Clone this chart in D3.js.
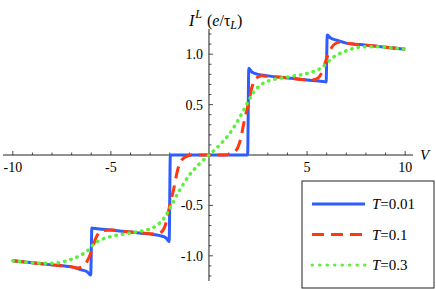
<!DOCTYPE html>
<html>
<head>
<meta charset="utf-8">
<script src="https://cdn.jsdelivr.net/npm/d3@7"></script>
<style>
  body { margin: 0; background: #fff; }
</style>
</head>
<body>
<svg id="chart" width="436" height="289" font-family="'Liberation Serif', 'Times New Roman', serif"></svg>
<script>
// T = 0.01 (solid blue)
const vBlue = [-10, -9, -8, -7, -6.5, -6.2, -6.03, -5.97, -5.8, -5, -4, -3, -2.5, -2.2, -2.03, -1.97, -1, 0,
  1, 1.97, 2.03, 2.2, 2.5, 3, 4, 5, 5.8, 5.97, 6.03, 6.2, 6.5, 7, 8, 9, 10];
const iBlue = [-1.05, -1.07, -1.09, -1.11, -1.14, -1.16, -1.19, -0.725, -0.73, -0.745, -0.765, -0.785, -0.80, -0.82, -0.86, 0, 0, 0,
  0, 0, 0.86, 0.82, 0.80, 0.785, 0.765, 0.745, 0.73, 0.725, 1.19, 1.16, 1.14, 1.11, 1.09, 1.07, 1.05];

// T = 0.1 (dashed red)
const vRed = [-10, -9, -8, -7, -6.7, -6.4, -6.2, -6.0, -5.8, -5.6, -5.4, -5, -4, -3, -2.7, -2.4, -2.2, -2.0, -1.8, -1.6, -1.4, -1.1, -0.8, 0,
  0.8, 1.1, 1.4, 1.6, 1.8, 2.0, 2.2, 2.4, 2.7, 3, 4, 5, 5.4, 5.6, 5.8, 6.0, 6.2, 6.4, 6.7, 7, 8, 9, 10];
const iRed = [-1.05, -1.07, -1.09, -1.11, -1.12, -1.10, -1.05, -0.96, -0.84, -0.77, -0.75, -0.745, -0.765, -0.78, -0.785, -0.76, -0.68, -0.50, -0.34, -0.15, -0.05, -0.01, 0, 0,
  0, 0.01, 0.05, 0.15, 0.34, 0.50, 0.68, 0.76, 0.785, 0.78, 0.765, 0.745, 0.75, 0.77, 0.84, 0.96, 1.05, 1.10, 1.12, 1.11, 1.09, 1.07, 1.05];

// T = 0.3 (dotted green)
const vGreen = [-10, -9.2, -8.4, -7.7, -7.1, -6.6, -6.2, -5.9, -5.6, -5.2, -4.8, -4.2, -3.6, -3.1, -2.6, -2.3, -2.0, -1.5, -1.0, -0.5, 0,
  0.5, 1.0, 1.5, 2.0, 2.3, 2.6, 3.1, 3.6, 4.2, 4.8, 5.2, 5.6, 5.9, 6.2, 6.6, 7.1, 7.7, 8.4, 9.2, 10];
const iGreen = [-1.05, -1.065, -1.075, -1.07, -1.04, -1.0, -0.95, -0.89, -0.85, -0.82, -0.80, -0.78, -0.76, -0.74, -0.69, -0.63, -0.53, -0.35, -0.20, -0.09, 0,
  0.09, 0.20, 0.35, 0.53, 0.63, 0.69, 0.74, 0.76, 0.78, 0.80, 0.82, 0.85, 0.89, 0.95, 1.0, 1.04, 1.07, 1.075, 1.065, 1.05];

const xMajor = [-10, -5, 5, 10];
const yMajor = [-1.0, -0.5, 0.5, 1.0];
const legendLabels = ["0.01", "0.1", "0.3"];

const svg = d3.select("#chart");
const x = d3.scaleLinear().domain([-10.5, 10.4]).range([3, 413]);
const y = d3.scaleLinear().domain([-1.25, 1.25]).range([281, 29]);

const axisColor = "#222";

// x axis line + ticks (ticks point up, Mathematica style)
svg.append("line").attr("x1", x(-10.5)).attr("x2", x(10.4))
  .attr("y1", y(0)).attr("y2", y(0)).attr("stroke", axisColor).attr("stroke-width", 1);
const xMinor = d3.range(-10, 11).filter(d => d !== 0);
svg.selectAll(".xtick").data(xMinor).join("line")
  .attr("x1", d => x(d)).attr("x2", d => x(d))
  .attr("y1", y(0)).attr("y2", d => y(0) - (d % 5 === 0 ? 4 : 2.5))
  .attr("stroke", axisColor).attr("stroke-width", 0.8);
svg.selectAll(".xlab").data(xMajor).join("text")
  .attr("x", d => x(d)).attr("y", 172)
  .attr("text-anchor", "middle").attr("font-size", 14)
  .text(d => d < 0 ? "-" + Math.abs(d) : d);
svg.append("text").attr("x", 420).attr("y", 160)
  .attr("font-size", 15).attr("font-style", "italic").text("V");

// y axis line + ticks (ticks point right)
svg.append("line").attr("x1", x(0)).attr("x2", x(0))
  .attr("y1", y(1.25)).attr("y2", y(-1.25)).attr("stroke", axisColor).attr("stroke-width", 1);
const yMinor = d3.range(-12, 13).filter(d => d !== 0).map(d => d / 10);
svg.selectAll(".ytick").data(yMinor).join("line")
  .attr("x1", x(0)).attr("x2", d => x(0) + (Math.round(d * 10) % 5 === 0 ? 4 : 2.5))
  .attr("y1", d => y(d)).attr("y2", d => y(d))
  .attr("stroke", axisColor).attr("stroke-width", 0.8);
svg.selectAll(".ylab").data(yMajor).join("text")
  .attr("x", x(0) - 6).attr("y", d => y(d) + 5)
  .attr("text-anchor", "end").attr("font-size", 14)
  .text(d => (d < 0 ? "-" : "") + Math.abs(d).toFixed(1));

// y axis title  I^L (e/τ_L)
const title = svg.append("text").attr("x", 189).attr("y", 26).attr("font-size", 16);
title.append("tspan").attr("font-style", "italic").text("I");
title.append("tspan").attr("font-style", "italic").attr("font-size", 12).attr("dy", -8).attr("dx", 1).text("L");
title.append("tspan").attr("dy", 8).attr("dx", 5).text("(");
title.append("tspan").attr("font-style", "italic").text("e");
title.append("tspan").text("/τ");
title.append("tspan").attr("font-style", "italic").attr("font-size", 12).attr("dy", 3).text("L");
title.append("tspan").attr("dy", -3).text(")");

// curves
const series = [
  { v: vBlue, i: iBlue, color: "#2f5cff", dash: null, cap: "butt" },
  { v: vRed, i: iRed, color: "#ff3811", dash: "12,7", cap: "butt" },
  { v: vGreen, i: iGreen, color: "#5cf03a", dash: "0.5,6", cap: "round" }
];
const line = d3.line().x(d => x(d[0])).y(d => y(d[1])).curve(d3.curveMonotoneX);
series.forEach(s => {
  svg.append("path")
    .attr("d", line(s.v.map((v, k) => [v, s.i[k]])))
    .attr("fill", "none").attr("stroke", s.color)
    .attr("stroke-width", s.cap === "round" ? 3.5 : 3)
    .attr("stroke-linecap", s.cap)
    .attr("stroke-linejoin", "round")
    .attr("stroke-dasharray", s.dash);
});

// legend
svg.append("rect").attr("x", 302).attr("y", 181).attr("width", 132).attr("height", 107)
  .attr("fill", "#fff").attr("stroke", "#222").attr("stroke-width", 1);
series.forEach((s, k) => {
  const ly = 204 + k * 30.5;
  svg.append("line").attr("x1", 312).attr("x2", 365).attr("y1", ly).attr("y2", ly)
    .attr("stroke", s.color).attr("stroke-width", 3)
    .attr("stroke-linecap", s.cap).attr("stroke-dasharray", s.dash === "0.5,6" ? "0.5,7" : s.dash);
  const t = svg.append("text").attr("x", 372).attr("y", ly + 5).attr("font-size", 15);
  t.append("tspan").attr("font-style", "italic").text("T");
  t.append("tspan").text("=" + legendLabels[k]);
});
</script>
</body>
</html>
